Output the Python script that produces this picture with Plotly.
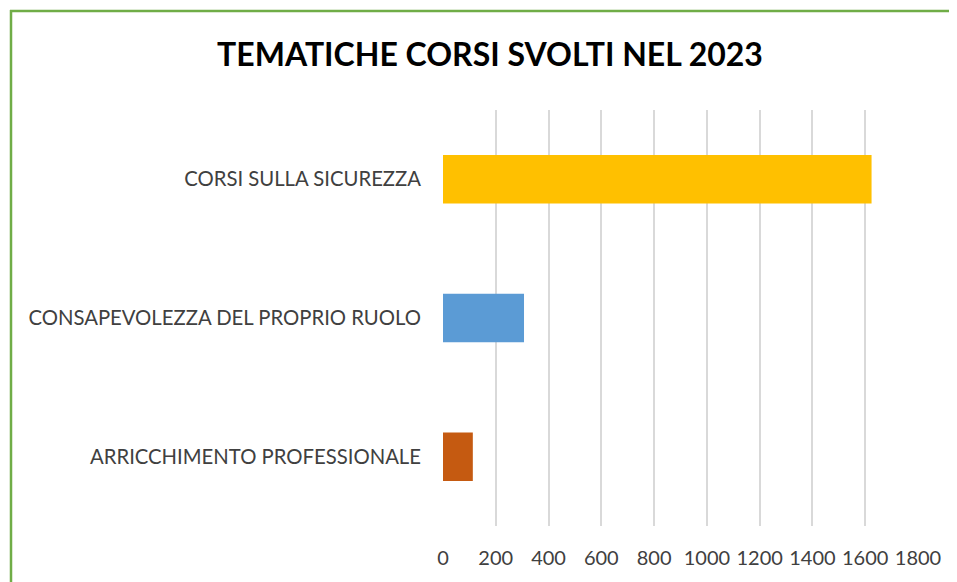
import plotly.graph_objects as go

categories = ["ARRICCHIMENTO PROFESSIONALE", "CONSAPEVOLEZZA DEL PROPRIO RUOLO", "CORSI SULLA SICUREZZA"]
values = [113, 307, 1624]
colors = ["#c55a11", "#5b9bd5", "#ffc000"]
tick_vals = [0, 200, 400, 600, 800, 1000, 1200, 1400, 1600, 1800]
title_text = "TEMATICHE CORSI SVOLTI NEL 2023"

# page body has an 8px margin; figure sized to fill the rest of the window
OFF = 8
W, H = 957 - OFF, 582 - OFF
ml, mr, mt, mb = 443 - OFF, 39, 110 - OFF, 56

fig = go.Figure(go.Bar(
    y=categories, x=values, orientation="h",
    marker=dict(color=colors, line=dict(width=0)),
    width=0.35,
))

pw = W - ml - mr
ph = H - mt - mb
def px_to_paper_x(px):
    return (px - OFF - ml) / pw
def px_to_paper_y(py):
    return (H - mb - (py - OFF)) / ph

green = "#70ad47"
fig.add_shape(type="line", xref="paper", yref="paper",
              x0=px_to_paper_x(10), x1=px_to_paper_x(970), y0=px_to_paper_y(11), y1=px_to_paper_y(11),
              line=dict(color=green, width=2.5))
fig.add_shape(type="line", xref="paper", yref="paper",
              x0=px_to_paper_x(11), x1=px_to_paper_x(11), y0=px_to_paper_y(10), y1=px_to_paper_y(600),
              line=dict(color=green, width=2.5))

fig.update_layout(
    width=W, height=H,
    margin=dict(l=ml, r=mr, t=mt, b=mb),
    paper_bgcolor="white", plot_bgcolor="white",
    showlegend=False,
    font=dict(family="Lato", color="#404040", size=16),
    title=dict(text="<b>" + title_text + "</b>", x=(490 - OFF) / W, xanchor="center",
               y=1 - (55 - OFF) / H, yanchor="middle",
               font=dict(family="Lato", size=32, color="black")),
    xaxis=dict(range=[0, 1800], tickvals=tick_vals, showgrid=True, gridcolor="#d9d9d9", gridwidth=1.5,
               zeroline=False, showline=False, ticks="", ticklabelstandoff=18,
               tickfont=dict(size=20, color="#404040")),
    yaxis=dict(range=[-0.5, 2.5], showgrid=False, zeroline=False, showline=False, ticks="",
               ticklabelstandoff=21, tickfont=dict(size=20.3, color="#404040")),
)

fig.write_html("out.html")
